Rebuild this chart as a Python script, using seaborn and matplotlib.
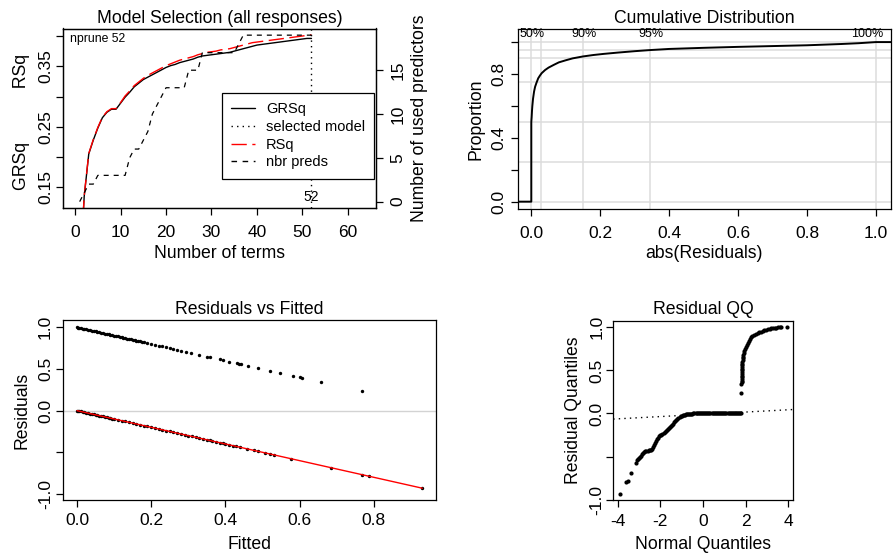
import matplotlib
matplotlib.use("Agg")
import matplotlib.pyplot as plt
from matplotlib.lines import Line2D
import pandas as pd
import seaborn as sns

# ---------------- data: model selection ----------------
n_terms = list(range(1, 53))
grsq = [0.000, 0.135, 0.205, 0.228, 0.248, 0.265, 0.274, 0.279, 0.279, 0.289,
        0.299, 0.307, 0.316, 0.322, 0.328, 0.332, 0.336, 0.340, 0.344, 0.348,
        0.351, 0.353, 0.356, 0.358, 0.360, 0.362, 0.365, 0.367, 0.368, 0.369,
        0.370, 0.371, 0.372, 0.373, 0.375, 0.377, 0.379, 0.381, 0.383, 0.385,
        0.386, 0.387, 0.388, 0.389, 0.390, 0.391, 0.392, 0.393, 0.394, 0.395,
        0.396, 0.396]
rsq = [0.000, 0.136, 0.206, 0.229, 0.249, 0.266, 0.275, 0.280, 0.280, 0.290,
       0.301, 0.309, 0.318, 0.324, 0.330, 0.335, 0.339, 0.343, 0.347, 0.351,
       0.354, 0.357, 0.360, 0.362, 0.364, 0.366, 0.369, 0.371, 0.373, 0.374,
       0.375, 0.377, 0.378, 0.379, 0.381, 0.383, 0.385, 0.387, 0.389, 0.390,
       0.391, 0.392, 0.393, 0.394, 0.395, 0.396, 0.397, 0.398, 0.399, 0.400,
       0.401, 0.402]
nbr_preds = [0, 1, 2, 2, 3, 3, 3, 3, 3, 3,
             3, 5, 6, 6, 7, 8, 10, 11, 12, 13,
             13, 13, 13, 13, 15, 15, 15, 17, 17, 17,
             17, 17, 17, 17, 17, 18, 19, 19, 19, 19,
             19, 19, 19, 19, 19, 19, 19, 19, 19, 19,
             19, 19]
selected_terms = 52
legend_labels = ["GRSq", "selected model", "RSq", "nbr preds"]

# ---------------- data: cumulative distribution ----------------
ecdf_abs_resid = [-0.06, 0.000, 0.000, 0.001, 0.002, 0.003, 0.005, 0.008, 0.011, 0.015,
                  0.020, 0.025, 0.030, 0.040, 0.050, 0.065, 0.080, 0.100, 0.120, 0.150,
                  0.180, 0.210, 0.250, 0.300, 0.345, 0.400, 0.500, 0.600, 0.700, 0.800,
                  0.900, 0.950, 1.000, 1.080]
ecdf_prop = [0.0, 0.0, 0.50, 0.53, 0.57, 0.60, 0.645, 0.69, 0.72, 0.745,
             0.773, 0.79, 0.805, 0.825, 0.84, 0.857, 0.873, 0.886, 0.898, 0.910,
             0.919, 0.926, 0.934, 0.943, 0.950, 0.957, 0.964, 0.970, 0.975, 0.980,
             0.988, 0.993, 1.0, 1.0]
quantile_values = [0.0, 0.027, 0.151, 0.344, 1.0]
quantile_labels = ["50%", "", "90%", "95%", "100%"]
prop_grid = [0.0, 0.25, 0.5, 0.75, 0.9, 0.95, 1.0]

# ---------------- data: residuals vs fitted ----------------
fitted_upper = [0.000, 0.003, 0.006, 0.010, 0.015, 0.020, 0.025, 0.030, 0.035, 0.040,
                0.045, 0.050, 0.055, 0.060, 0.065, 0.070, 0.075, 0.080, 0.085, 0.090,
                0.095, 0.100, 0.105, 0.110, 0.115, 0.120, 0.125, 0.130, 0.135, 0.140,
                0.145, 0.150, 0.155, 0.160, 0.165, 0.170, 0.175, 0.180, 0.190, 0.200,
                0.210, 0.220, 0.230, 0.240, 0.250, 0.260, 0.270, 0.281, 0.295, 0.308,
                0.330, 0.351, 0.359, 0.386, 0.393, 0.411, 0.431, 0.438, 0.441, 0.462,
                0.489, 0.519, 0.547, 0.583, 0.601, 0.607, 0.658, 0.767]
resid_upper = [1.000, 0.997, 0.994, 0.990, 0.985, 0.980, 0.975, 0.970, 0.965, 0.960,
               0.955, 0.950, 0.945, 0.940, 0.935, 0.930, 0.925, 0.920, 0.915, 0.910,
               0.905, 0.900, 0.895, 0.890, 0.885, 0.880, 0.875, 0.870, 0.865, 0.860,
               0.855, 0.850, 0.845, 0.840, 0.835, 0.830, 0.825, 0.820, 0.810, 0.800,
               0.790, 0.780, 0.770, 0.760, 0.750, 0.740, 0.730, 0.719, 0.705, 0.692,
               0.670, 0.649, 0.641, 0.614, 0.607, 0.589, 0.569, 0.562, 0.559, 0.538,
               0.511, 0.481, 0.453, 0.417, 0.399, 0.393, 0.342, 0.233]
fitted_lower = [0.000, 0.003, 0.006, 0.010, 0.015, 0.020, 0.025, 0.030, 0.035, 0.040,
                0.045, 0.050, 0.055, 0.060, 0.065, 0.070, 0.075, 0.080, 0.085, 0.090,
                0.095, 0.100, 0.110, 0.120, 0.130, 0.140, 0.150, 0.160, 0.170, 0.180,
                0.190, 0.200, 0.210, 0.220, 0.230, 0.240, 0.250, 0.260, 0.270, 0.280,
                0.290, 0.300, 0.310, 0.320, 0.330, 0.340, 0.350, 0.358, 0.365, 0.375,
                0.385, 0.393, 0.400, 0.410, 0.420, 0.428, 0.440, 0.458, 0.476, 0.489,
                0.507, 0.519, 0.531, 0.577, 0.685, 0.768, 0.786, 0.931]
resid_lower = [-0.000, -0.003, -0.006, -0.010, -0.015, -0.020, -0.025, -0.030, -0.035, -0.040,
               -0.045, -0.050, -0.055, -0.060, -0.065, -0.070, -0.075, -0.080, -0.085, -0.090,
               -0.095, -0.100, -0.110, -0.120, -0.130, -0.140, -0.150, -0.160, -0.170, -0.180,
               -0.190, -0.200, -0.210, -0.220, -0.230, -0.240, -0.250, -0.260, -0.270, -0.280,
               -0.290, -0.300, -0.310, -0.320, -0.330, -0.340, -0.350, -0.358, -0.365, -0.375,
               -0.385, -0.393, -0.400, -0.410, -0.420, -0.428, -0.440, -0.458, -0.476, -0.489,
               -0.507, -0.519, -0.531, -0.577, -0.685, -0.768, -0.786, -0.931]
smooth_fitted = [0.000, 0.931]
smooth_resid = [0.000, -0.931]

# ---------------- data: residual QQ ----------------
qq_lower_theory = [-3.89, -3.61, -3.50, -3.38, -3.14,
                   -3.10, -3.05, -3.00, -2.95, -2.90, -2.85, -2.80, -2.75, -2.70, -2.65,
                   -2.60, -2.55, -2.50, -2.45, -2.40, -2.35, -2.30, -2.25, -2.20, -2.15,
                   -2.10, -2.05, -2.00, -1.95, -1.90, -1.85, -1.80, -1.75, -1.70, -1.65,
                   -1.60, -1.55, -1.50, -1.45, -1.40, -1.35, -1.30, -1.25, -1.20, -1.15,
                   -1.10, -1.05, -1.00, -0.95, -0.90, -0.85, -0.80, -0.75, -0.70, -0.65,
                   -0.60]
qq_lower_resid = [-0.93, -0.79, -0.78, -0.69, -0.58,
                  -0.545, -0.525, -0.512, -0.500, -0.488, -0.476, -0.463, -0.450, -0.440, -0.434,
                  -0.430, -0.427, -0.424, -0.419, -0.410, -0.390, -0.366, -0.343, -0.318, -0.296,
                  -0.280, -0.266, -0.255, -0.245, -0.236, -0.227, -0.217, -0.207, -0.197, -0.185,
                  -0.172, -0.159, -0.145, -0.131, -0.117, -0.103, -0.089, -0.075, -0.062, -0.050,
                  -0.040, -0.034, -0.028, -0.022, -0.017, -0.013, -0.010, -0.007, -0.005, -0.003,
                  -0.002]
qq_mid_theory = [-0.55, -0.50, -0.45, -0.40, -0.35, -0.30, -0.25, -0.20, -0.15, -0.10,
                 -0.05, 0.00, 0.05, 0.10, 0.15, 0.20, 0.25, 0.30, 0.35, 0.40,
                 0.45, 0.50, 0.55, 0.60, 0.65, 0.70, 0.75, 0.80, 0.85, 0.90,
                 0.95, 1.00, 1.05, 1.10, 1.15, 1.20, 1.25, 1.30, 1.35, 1.40,
                 1.45, 1.50, 1.55, 1.60, 1.65, 1.70, 1.75, 1.80]
qq_mid_resid = [-0.001, -0.001, 0.000, 0.000, 0.000, 0.000, 0.000, 0.000, 0.000, 0.000,
                0.000, 0.000, 0.000, 0.000, 0.000, 0.000, 0.000, 0.000, 0.000, 0.000,
                0.000, 0.000, 0.000, 0.000, 0.000, 0.000, 0.000, 0.000, 0.000, 0.000,
                0.000, 0.000, 0.000, 0.000, 0.000, 0.000, 0.000, 0.000, 0.000, 0.000,
                0.000, 0.000, 0.001, 0.001, 0.001, 0.002, 0.002, 0.003]
qq_upper_theory = [1.800, 1.805, 1.808, 1.811, 1.814, 1.817, 1.820, 1.823, 1.826, 1.829,
                   1.832, 1.836, 1.840, 1.845, 1.850, 1.858, 1.866, 1.876, 1.890, 1.910,
                   1.940, 1.980, 2.020, 2.060, 2.100, 2.150, 2.200, 2.260, 2.320, 2.400,
                   2.480, 2.560, 2.640, 2.720, 2.800, 2.880, 2.960, 3.040, 3.120, 3.200,
                   3.280, 3.360, 3.440, 3.520, 3.600, 3.680, 3.920]
qq_upper_resid = [0.235, 0.340, 0.360, 0.380, 0.400, 0.420, 0.440, 0.460, 0.480, 0.500,
                  0.520, 0.540, 0.560, 0.580, 0.600, 0.620, 0.640, 0.660, 0.680, 0.700,
                  0.720, 0.745, 0.770, 0.790, 0.815, 0.840, 0.865, 0.885, 0.900, 0.915,
                  0.926, 0.935, 0.943, 0.951, 0.958, 0.965, 0.971, 0.977, 0.982, 0.987,
                  0.991, 0.994, 0.997, 0.999, 1.000, 1.000, 1.000]
qqline_theory = [-4.21, 4.23]
qqline_resid = [-0.065, 0.046]

# ---------------- style ----------------
sns.set_theme(style="ticks")
plt.rcParams.update({
    "font.family": ["Liberation Sans", "DejaVu Sans"],
    "font.size": 12.5,
    "axes.edgecolor": "black",
    "axes.linewidth": 0.9,
    "axes.labelcolor": "black",
    "text.color": "black",
    "xtick.color": "black",
    "ytick.color": "black",
    "xtick.major.size": 5,
    "ytick.major.size": 5,
    "xtick.major.width": 0.9,
    "ytick.major.width": 0.9,
    "xtick.labelsize": 12.5,
    "ytick.labelsize": 12.5,
    "axes.labelsize": 12.7,
    "axes.unicode_minus": False,
})

W, H = 894, 556
fig = plt.figure(figsize=(W / 100, H / 100), dpi=100)
fig.patch.set_facecolor("white")


def rect(l, t, r, b):
    return [l / W, 1 - b / H, (r - l) / W, (b - t) / H]


def style_yticks(ax, pad, side="left"):
    ax.tick_params(axis="y", pad=pad)
    for lab in ax.yaxis.get_ticklabels():
        lab.set_rotation(90)
        lab.set_rotation_mode("anchor")
        lab.set_ha("center")
        lab.set_va("baseline" if side == "left" else "top")


def add_title(ax, text, y):
    ax.text(0.5, y, text, transform=ax.transAxes, ha="center", va="baseline", fontsize=12.7)


def set_labels(ax, xlabel, xl_y, ylabel, yl_x, yl_y=0.5):
    ax.set_xlabel(xlabel)
    ax.xaxis.set_label_coords(0.5, xl_y)
    ax.xaxis.label.set_va("baseline")
    ax.set_ylabel(ylabel)
    ax.yaxis.set_label_coords(yl_x, yl_y)
    ax.yaxis.label.set_va("baseline")


dash_rsq = (0, (11, 4))
dash_preds = (0, (4, 4))
dot_sel = (0, (1, 3))

# ---------------- panel 1: model selection ----------------
ax1 = fig.add_axes(rect(63.3, 28.5, 376, 208.3))
ax1r = ax1.twinx()
df_sel = pd.DataFrame({"terms": n_terms, "GRSq": grsq, "RSq": rsq, "preds": nbr_preds})
sns.lineplot(data=df_sel, x="terms", y="GRSq", ax=ax1, color="black", linewidth=1.0,
             estimator=None)
sns.lineplot(data=df_sel, x="terms", y="RSq", ax=ax1, color="red", linewidth=1.0,
             linestyle=dash_rsq, estimator=None)
ax1.axvline(selected_terms, color="black", linestyle=dot_sel, linewidth=1.0)
sns.lineplot(data=df_sel, x="terms", y="preds", ax=ax1r, color="black", linewidth=0.9,
             linestyle=dash_preds, estimator=None)
ax1.set_xlim(-2.6, 66.2)
ax1.set_ylim(0.1153, 0.4124)
ax1r.set_ylim(-0.76, 19.76)
ax1.set_xticks([0, 10, 20, 30, 40, 50, 60])
ax1.set_xticklabels(["0", "10", "20", "30", "40", "50", "60"])
ax1.set_yticks([0.15, 0.20, 0.25, 0.30, 0.35, 0.40])
ax1.set_yticklabels(["0.15", "", "0.25", "", "0.35", ""])
ax1r.set_yticks([0, 5, 10, 15])
ax1r.set_yticklabels(["0", "5", "10", "15"])
ax1.tick_params(axis="x", pad=7.0)
style_yticks(ax1, 4.2, "left")
style_yticks(ax1r, 5.4, "right")
set_labels(ax1, "Number of terms", -0.278, "GRSq           RSq", -0.118, 0.48)
ax1r.set_ylabel("Number of used predictors")
ax1r.yaxis.set_label_position("right")
ax1r.yaxis.set_label_coords(1.1545, 0.5)
ax1r.yaxis.label.set_rotation(90)
ax1r.yaxis.label.set_va("baseline")
for sp in ax1r.spines.values():
    sp.set_visible(True)
add_title(ax1, "Model Selection (all responses)", 1.032)
ax1.text(0.0205, 0.9266, "nprune " + str(selected_terms), transform=ax1.transAxes,
         ha="left", va="baseline", fontsize=8.8)
ax1.text(selected_terms, 0.0406, str(selected_terms), transform=ax1.get_xaxis_transform(),
         ha="center", va="baseline", fontsize=9.9)
handles = [Line2D([], [], color="black", linewidth=1.0),
           Line2D([], [], color="black", linewidth=1.0, linestyle=dot_sel),
           Line2D([], [], color="red", linewidth=1.0, linestyle=dash_rsq),
           Line2D([], [], color="black", linewidth=1.0, linestyle=dash_preds)]
leg = ax1r.legend(handles, legend_labels, loc="upper left", bbox_to_anchor=(0.5075, 0.641),
                  fontsize=10.5, frameon=True, fancybox=False, edgecolor="black",
                  facecolor="white", framealpha=1, borderpad=0.62, handlelength=1.65,
                  handletextpad=0.75, labelspacing=0.26, borderaxespad=0)
leg.get_frame().set_linewidth(0.9)

# ---------------- panel 2: cumulative distribution ----------------
ax2 = fig.add_axes(rect(517.7, 29, 890.7, 209))
grid_col = "#dcdcdc"
for v in quantile_values:
    ax2.axvline(v, color=grid_col, linewidth=1.1, zorder=0.5)
for p in prop_grid:
    ax2.axhline(p, color=grid_col, linewidth=1.1, zorder=0.5)
sns.lineplot(x=ecdf_abs_resid, y=ecdf_prop, ax=ax2, color="black", linewidth=1.4,
             estimator=None, sort=False)
ax2.set_xlim(-0.0395, 1.043)
ax2.set_ylim(-0.046, 1.082)
ax2.set_xticks([0.0, 0.2, 0.4, 0.6, 0.8, 1.0])
ax2.set_xticklabels(["0.0", "0.2", "0.4", "0.6", "0.8", "1.0"])
ax2.set_yticks([0.0, 0.2, 0.4, 0.6, 0.8, 1.0])
ax2.set_yticklabels(["0.0", "", "0.4", "", "0.8", ""])
ax2.tick_params(axis="x", pad=7.0)
style_yticks(ax2, 5.0, "left")
set_labels(ax2, "abs(Residuals)", -0.272, "Proportion", -0.0984)
add_title(ax2, "Cumulative Distribution", 1.035)
for v, lab in zip(quantile_values, quantile_labels):
    if not lab:
        continue
    if v >= 1.0:
        ax2.text(1.021, 1.049, lab, ha="right", va="center", fontsize=9)
    else:
        ax2.text(v + 0.002, 1.049, lab, ha="center", va="center", fontsize=9)

# ---------------- panel 3: residuals vs fitted ----------------
ax3 = fig.add_axes(rect(63.3, 320.3, 435.7, 500.3))
ax3.axhline(0, color="#d3d3d3", linewidth=1.0, zorder=0.5)
df_res = pd.DataFrame({"fitted": fitted_upper + fitted_lower,
                       "resid": resid_upper + resid_lower})
sns.scatterplot(data=df_res, x="fitted", y="resid", ax=ax3, color="black", s=6,
                linewidth=0, zorder=2)
sns.lineplot(x=smooth_fitted, y=smooth_resid, ax=ax3, color="red", linewidth=1.0,
             estimator=None, zorder=3)
ax3.set_xlim(-0.037, 0.967)
ax3.set_ylim(-1.076, 1.084)
ax3.set_xticks([0.0, 0.2, 0.4, 0.6, 0.8])
ax3.set_xticklabels(["0.0", "0.2", "0.4", "0.6", "0.8"])
ax3.set_yticks([-1.0, -0.5, 0.0, 0.5, 1.0])
ax3.set_yticklabels(["-1.0", "", "0.0", "0.5", "1.0"])
ax3.tick_params(axis="x", pad=4.0)
style_yticks(ax3, 4.5, "left")
set_labels(ax3, "Fitted", -0.2706, "Residuals", -0.0988)
add_title(ax3, "Residuals vs Fitted", 1.035)

# ---------------- panel 4: residual QQ ----------------
ax4 = fig.add_axes(rect(613.3, 320.7, 793.3, 500.3))
df_qq = pd.DataFrame({"theory": qq_lower_theory + qq_mid_theory + qq_upper_theory,
                      "resid": qq_lower_resid + qq_mid_resid + qq_upper_resid})
sns.lineplot(x=qqline_theory, y=qqline_resid, ax=ax4, color="black", linewidth=1.0,
             linestyle=dot_sel, estimator=None)
sns.scatterplot(data=df_qq, x="theory", y="resid", ax=ax4, color="black", s=9,
                linewidth=0, zorder=3)
ax4.set_xlim(-4.206, 4.234)
ax4.set_ylim(-1.008, 1.077)
ax4.set_xticks([-4, -2, 0, 2, 4])
ax4.set_xticklabels(["-4", "-2", "0", "2", "4"])
ax4.set_yticks([-1.0, -0.5, 0.0, 0.5, 1.0])
ax4.set_yticklabels(["-1.0", "", "0.0", "0.5", "1.0"])
ax4.tick_params(axis="x", pad=5.0)
style_yticks(ax4, 3.5, "left")
set_labels(ax4, "Normal Quantiles", -0.2706, "Residual Quantiles", -0.196)
add_title(ax4, "Residual QQ", 1.037)

fig.savefig("out.png", dpi=100, facecolor="white")
